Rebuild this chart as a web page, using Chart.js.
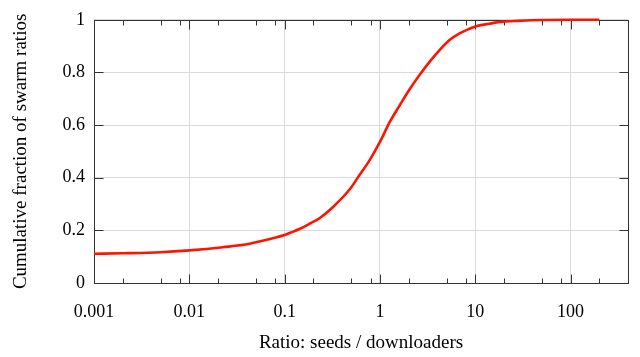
<!DOCTYPE html>
<html>
<head>
<meta charset="utf-8">
<script src="https://cdn.jsdelivr.net/npm/chart.js@4/dist/chart.umd.min.js"></script>
<style>
  html, body { margin: 0; padding: 0; background: #fff; }
  #wrap { width: 640px; height: 357px; position: relative; }
  canvas { display: block; }
</style>
</head>
<body>
<div id="wrap"><canvas id="c" width="640" height="357"></canvas></div>
<script>
// Data (CDF of seeds/downloaders ratio)
const ratio = [0.001, 0.002, 0.005, 0.01, 0.0225, 0.043, 0.05, 0.075, 0.1, 0.113, 0.143, 0.18, 0.232, 0.32, 0.48, 0.61, 0.78, 1, 1.26, 1.6, 2.04, 2.6, 3.31, 4.22, 5.37, 6.84, 8.7, 10, 14, 19.5, 28.7, 50, 100, 200];
const fraction = [0.111, 0.113, 0.117, 0.124, 0.136, 0.149, 0.155, 0.17, 0.182, 0.19, 0.205, 0.224, 0.246, 0.288, 0.355, 0.41, 0.467, 0.536, 0.61, 0.673, 0.735, 0.79, 0.84, 0.885, 0.923, 0.948, 0.966, 0.975, 0.985, 0.993, 0.996, 0.999, 1.0, 1.0];

const xTickValues = [0.001, 0.01, 0.1, 1, 10, 100];
const xTickLabels = ['0.001', '0.01', '0.1', '1', '10', '100'];
const xMinorFactors = [2, 5, 8];
const yTickValues = [0, 0.2, 0.4, 0.6, 0.8, 1];
const yTickLabels = ['0', '0.2', '0.4', '0.6', '0.8', '1'];

const FONT = "'Liberation Serif', 'DejaVu Serif', serif";
const frameColor = '#333333';

const framePlugin = {
  id: 'frameTicks',
  beforeDatasetsDraw(chart) {
    const {ctx, chartArea: a, scales: {x, y}} = chart;
    ctx.save();
    ctx.strokeStyle = frameColor;
    ctx.lineWidth = 1;
    const L = Math.round(a.left) + 0.5, R = Math.round(a.right) + 0.5;
    const T = Math.round(a.top) + 0.5, B = Math.round(a.bottom) + 0.5;
    ctx.beginPath();
    const xs = [];
    xTickValues.forEach(v => xs.push([v, 9]));
    for (let d = 0.001; d < 1000; d *= 10) {
      xMinorFactors.forEach(f => xs.push([d * f, 5]));
    }
    xs.forEach(([v, len]) => {
      if (v < x.min || v > x.max) return;
      const px = Math.round(x.getPixelForValue(v)) + 0.5;
      ctx.moveTo(px, B); ctx.lineTo(px, B - len);
      ctx.moveTo(px, T); ctx.lineTo(px, T + len);
    });
    yTickValues.forEach(v => {
      const py = Math.round(y.getPixelForValue(v)) + 0.5;
      ctx.moveTo(L, py); ctx.lineTo(L + 9, py);
      ctx.moveTo(R, py); ctx.lineTo(R - 9, py);
    });
    ctx.stroke();
    ctx.strokeRect(L, T, R - L, B - T);
    ctx.restore();
  }
};

new Chart(document.getElementById('c'), {
  type: 'line',
  data: {
    datasets: [{
      data: ratio.map((r, i) => ({x: r, y: fraction[i]})),
      borderColor: '#ff1400',
      borderWidth: 2.6,
      pointRadius: 0,
      cubicInterpolationMode: 'monotone',
      fill: false,
      clip: false
    }]
  },
  options: {
    responsive: false,
    animation: false,
    devicePixelRatio: 1,
    layout: { padding: { top: 16, right: 12, left: 0, bottom: 0 } },
    plugins: { legend: { display: false }, tooltip: { enabled: false } },
    scales: {
      x: {
        type: 'logarithmic',
        min: 0.001,
        max: 400,
        afterBuildTicks(scale) { scale.ticks = xTickValues.map(v => ({value: v})); },
        afterFit(scale) { scale.height = 74; },
        ticks: {
          autoSkip: false,
          maxRotation: 0,
          padding: 18,
          color: '#000',
          font: { family: FONT, size: 18 },
          callback(value) { const i = xTickValues.indexOf(value); return i >= 0 ? xTickLabels[i] : ''; }
        },
        grid: { color: '#dadada', lineWidth: 1, drawTicks: false },
        border: { display: false },
        title: {
          display: true,
          text: 'Ratio: seeds / downloaders',
          color: '#000',
          font: { family: FONT, size: 19 },
          padding: { top: 0, bottom: 3 }
        }
      },
      y: {
        type: 'linear',
        min: 0,
        max: 1,
        afterBuildTicks(scale) { scale.ticks = yTickValues.map(v => ({value: v})); },
        afterFit(scale) { scale.width = 94; },
        ticks: {
          padding: 9,
          color: '#000',
          font: { family: FONT, size: 18 },
          callback(value) { const i = yTickValues.indexOf(value); return i >= 0 ? yTickLabels[i] : ''; }
        },
        grid: { color: '#dadada', lineWidth: 1, drawTicks: false },
        border: { display: false },
        title: {
          display: true,
          text: 'Cumulative fraction of swarm ratios',
          color: '#000',
          font: { family: FONT, size: 19 },
          padding: { top: 10, bottom: 0 }
        }
      }
    }
  },
  plugins: [framePlugin]
});
</script>
</body>
</html>
